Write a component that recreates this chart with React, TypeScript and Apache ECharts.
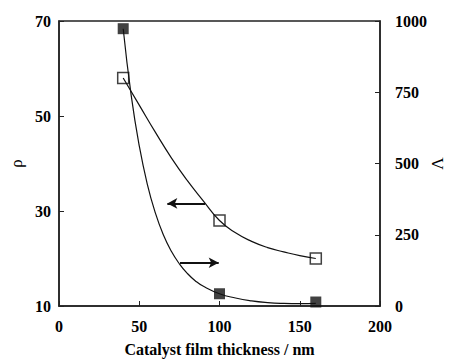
import React, { useEffect, useRef } from "react";
import * as echarts from "echarts";

// Measured points
const thickness = [40, 100, 160];
const rhoValues = [58, 28, 20];
const lambdaValues = [973, 43, 14];

// Fitted curves
const rhoCurveX = [40, 50, 60, 70, 80, 90, 100, 110, 120, 130, 140, 150, 160];
const rhoCurveY = [58, 52.3, 46.6, 41.2, 36.4, 32.1, 28, 25.4, 23.6, 22.3, 21.4, 20.6, 20];
const lambdaCurveX = [40, 45, 50, 55, 60, 65, 70, 75, 80, 85, 90, 100, 110, 120, 130, 140, 150, 160];
const lambdaCurveY = [973, 738, 562, 428, 327, 250, 192, 148, 114, 88, 69, 43, 28, 18, 12, 9, 8, 9];

// Axis ticks
const xTicks = { min: 0, max: 200, interval: 50 };
const rhoTicks = { min: 10, max: 70, interval: 20 };
const lambdaTicks = { min: 0, max: 1000, interval: 250 };

// Arrow annotations (data coordinates on the rho axis)
const leftArrow = { from: [91, 31.6], to: [67.5, 31.6] };
const rightArrow = { from: [75.4, 19.1], to: [99.5, 19.1] };

const FONT = "'Liberation Serif', 'Times New Roman', 'DejaVu Serif', serif";

export default function App() {
  const ref = useRef<HTMLDivElement>(null);
  useEffect(() => {
    if (!ref.current) return;
    const chart = echarts.init(ref.current, undefined, { renderer: "svg" });
    const zip = (xs: number[], ys: number[]) => xs.map((x, i) => [x, ys[i]]);
    const tickLabel = {
      color: "#000",
      fontFamily: FONT,
      fontWeight: "bold" as const,
      fontSize: 16,
      formatter: (v: number) => String(v),
    };
    const axisLine = { show: true, lineStyle: { color: "#222", width: 1.5 } };
    chart.setOption({
      animation: false,
      backgroundColor: "#fff",
      grid: {
        left: 59,
        right: 69,
        top: 21,
        bottom: 56,
        containLabel: false,
        outerBoundsMode: "none",
        show: true,
        borderColor: "#222",
        borderWidth: 1.5,
        backgroundColor: "transparent",
      },
      xAxis: {
        type: "value",
        ...xTicks,
        name: "Catalyst film thickness / nm",
        nameLocation: "middle",
        nameGap: 35,
        nameMoveOverlap: false,
        nameTextStyle: { color: "#000", fontFamily: FONT, fontWeight: "bold", fontSize: 16 },
        axisLine,
        axisTick: { show: true, inside: true, length: 5, lineStyle: { color: "#222", width: 1 } },
        axisLabel: { ...tickLabel, margin: 12 },
        splitLine: { show: false },
      },
      yAxis: [
        {
          type: "value",
          position: "left",
          ...rhoTicks,
          name: "ρ",
          nameLocation: "middle",
          nameRotate: 90,
          nameGap: 34,
          nameMoveOverlap: false,
          nameTextStyle: { color: "#000", fontFamily: FONT, fontSize: 17 },
          axisLine,
          axisTick: { show: true, inside: true, length: 5, lineStyle: { color: "#222", width: 1 } },
          axisLabel: { ...tickLabel, margin: 8 },
          splitLine: { show: false },
        },
        {
          type: "value",
          position: "right",
          ...lambdaTicks,
          name: "Λ",
          nameLocation: "middle",
          nameRotate: 90,
          nameGap: 49,
          nameMoveOverlap: false,
          nameTextStyle: { color: "#000", fontFamily: FONT, fontSize: 17 },
          axisLine,
          axisTick: { show: true, inside: true, length: 5, lineStyle: { color: "#222", width: 1 } },
          axisLabel: { ...tickLabel, margin: 15 },
          splitLine: { show: false },
        },
      ],
      series: [
        {
          type: "line",
          yAxisIndex: 0,
          data: zip(rhoCurveX, rhoCurveY),
          smooth: true,
          showSymbol: false,
          symbol: "none",
          lineStyle: { color: "#111", width: 1.2 },
          markLine: {
            silent: true,
            symbol: ["none", "arrow"],
            symbolSize: [8, 10],
            lineStyle: { color: "#111", width: 2, type: "solid" },
            label: { show: false },
            data: [
              [{ coord: leftArrow.from }, { coord: leftArrow.to }],
              [{ coord: rightArrow.from }, { coord: rightArrow.to }],
            ],
          },
        },
        {
          type: "line",
          yAxisIndex: 1,
          data: zip(lambdaCurveX, lambdaCurveY),
          smooth: true,
          showSymbol: false,
          symbol: "none",
          lineStyle: { color: "#111", width: 1.2 },
        },
        {
          type: "scatter",
          yAxisIndex: 0,
          data: zip(thickness, rhoValues),
          symbol: "rect",
          symbolSize: 11,
          itemStyle: { color: "rgba(0,0,0,0)", borderColor: "#111", borderWidth: 1.5 },
          z: 5,
        },
        {
          type: "scatter",
          yAxisIndex: 1,
          data: zip(thickness, lambdaValues),
          symbol: "rect",
          symbolSize: 11,
          itemStyle: { color: "#111" },
          z: 5,
        },
      ],
    });
    return () => chart.dispose();
  }, []);
  return (
    <div
      ref={ref}
      style={{ position: "fixed", left: 0, top: 0, width: 449, height: 362, background: "#fff" }}
    />
  );
}
